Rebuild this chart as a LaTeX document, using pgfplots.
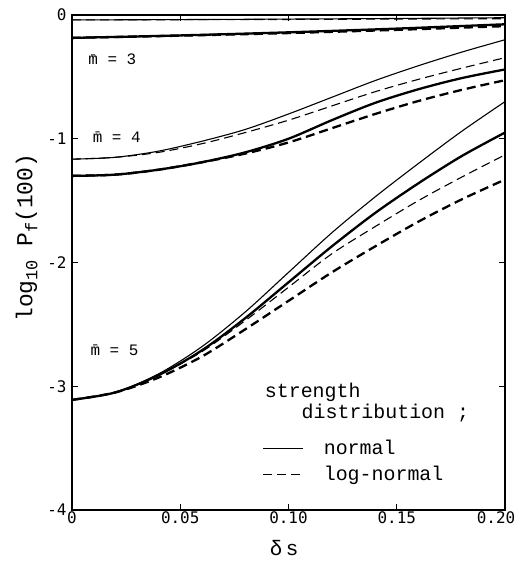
\documentclass[border=0pt]{standalone}
\usepackage{fontspec}
\setmainfont{Liberation Mono}
\newfontfamily\tickfont{DejaVu Sans Mono}
\usepackage{pgfplots}
\pgfplotsset{compat=1.18}
\newcommand\sub[1]{\raisebox{-5bp}{\fontsize{17}{19}\selectfont #1}}
\begin{document}
\begin{tikzpicture}
\useasboundingbox (-72bp,-54bp) rectangle (445bp,510bp);
\begin{axis}[at={(0,0)}, anchor=south west, scale only axis,
  width=433bp, height=495bp,
  xmin=0, xmax=0.2, ymin=-4, ymax=0,
  xtick={0,0.05,0.1,0.15,0.2},
  xticklabels={0,0.05,0.10,0.15,{\makebox[0pt]{\hspace*{-18bp}0.20}}},
  ytick={-4,-3,-2,-1,0}, yticklabels={-4,-3,-2,-1,0},
  tick align=inside, major tick length=6bp,
  every tick/.style={black, line width=1bp},
  axis line style={line width=1.5bp},
  ticklabel style={font=\tickfont\fontsize{16}{19}\selectfont},
  xticklabel style={yshift=2bp},
  yticklabel style={xshift=-2bp},
  xlabel={δ\,s}, ylabel={log\sub{10} P\sub{f}(100)},
  xlabel style={font=\fontsize{21}{24}\selectfont, at={(axis description cs:0.49,0)}, anchor=center, yshift=-38bp},
  ylabel style={font=\fontsize{23}{26}\selectfont, at={(axis description cs:-0.105,0.55)}, anchor=center},
  legend style={draw=none, fill=none, at={(axis description cs:0.44,0.145)}, anchor=north west,
    font=\fontsize{20}{23}\selectfont, row sep=6bp, inner sep=0pt,
    legend cell align=left},
  legend image code/.code={\draw[#1] (0bp,0bp) -- (40bp,0bp);},
  thin/.style={black, line width=1.1bp, smooth},
  thick/.style={black, line width=2.3bp, smooth},
  dsh/.style={dash pattern=on 9bp off 5bp},
]
% m = 3
\addplot[thin, forget plot] coordinates {(0,-0.04)(0.05,-0.037)(0.1,-0.033)(0.15,-0.028)(0.2,-0.022)};
\addplot[thin, dsh, forget plot] coordinates {(0,-0.04)(0.05,-0.038)(0.1,-0.036)(0.15,-0.033)(0.2,-0.03)};
\addplot[thick, forget plot] coordinates {(0,-0.185)(0.05,-0.165)(0.1,-0.14)(0.15,-0.11)(0.2,-0.075)};
\addplot[thick, dsh, forget plot] coordinates {(0,-0.185)(0.05,-0.167)(0.1,-0.146)(0.15,-0.12)(0.2,-0.09)};
% m = 4
\addplot[thin, forget plot] coordinates {(0,-1.165)(0.02,-1.15)(0.04,-1.10)(0.06,-1.02)(0.08,-0.925)(0.10,-0.80)(0.12,-0.665)(0.14,-0.53)(0.16,-0.41)(0.18,-0.30)(0.20,-0.20)};
\addplot[thin, dsh, forget plot] coordinates {(0,-1.165)(0.02,-1.15)(0.04,-1.11)(0.06,-1.04)(0.08,-0.95)(0.10,-0.85)(0.12,-0.735)(0.14,-0.62)(0.16,-0.52)(0.18,-0.43)(0.20,-0.345)};
\addplot[thick, forget plot] coordinates {(0,-1.30)(0.02,-1.29)(0.04,-1.25)(0.06,-1.19)(0.08,-1.11)(0.10,-1.00)(0.12,-0.85)(0.14,-0.71)(0.16,-0.60)(0.18,-0.51)(0.20,-0.44)};
\addplot[thick, dsh, forget plot] coordinates {(0,-1.30)(0.02,-1.29)(0.04,-1.25)(0.06,-1.19)(0.08,-1.12)(0.10,-1.03)(0.12,-0.915)(0.14,-0.80)(0.16,-0.695)(0.18,-0.605)(0.20,-0.527)};
% m = 5
\addplot[thin, forget plot] coordinates {(0,-3.11)(0.02,-3.05)(0.04,-2.90)(0.06,-2.68)(0.08,-2.40)(0.10,-2.08)(0.12,-1.76)(0.14,-1.47)(0.16,-1.20)(0.18,-0.94)(0.20,-0.70)};
\addplot[thick, forget plot] coordinates {(0,-3.11)(0.02,-3.05)(0.04,-2.91)(0.06,-2.71)(0.08,-2.45)(0.10,-2.16)(0.12,-1.87)(0.14,-1.60)(0.16,-1.36)(0.18,-1.14)(0.20,-0.95)};
\addplot[thin, dsh, forget plot] coordinates {(0,-3.11)(0.02,-3.05)(0.04,-2.91)(0.06,-2.72)(0.08,-2.47)(0.10,-2.20)(0.12,-1.93)(0.14,-1.71)(0.16,-1.50)(0.18,-1.31)(0.20,-1.13)};
\addplot[thick, dsh, forget plot] coordinates {(0,-3.11)(0.02,-3.05)(0.04,-2.93)(0.06,-2.76)(0.08,-2.54)(0.10,-2.31)(0.12,-2.08)(0.14,-1.87)(0.16,-1.67)(0.18,-1.49)(0.20,-1.33)};
% legend
\addlegendimage{black, line width=1.1bp}
\addlegendentry{\hspace*{18bp}normal}
\addlegendimage{black, line width=1.1bp, dash pattern=on 9bp off 5bp}
\addlegendentry{\hspace*{18bp}log-normal}
% labels
\node[anchor=west, font=\fontsize{16}{18}\selectfont, inner sep=0pt] at (axis cs:0.0075,-0.36) {\={m} = 3};
\node[anchor=west, font=\fontsize{16}{18}\selectfont, inner sep=0pt] at (axis cs:0.0095,-0.985) {\={m} = 4};
\node[anchor=west, font=\fontsize{16}{18}\selectfont, inner sep=0pt] at (axis cs:0.0085,-2.71) {\={m} = 5};
\node[anchor=west, font=\fontsize{20}{23}\selectfont, inner sep=0pt] at (axis cs:0.089,-3.05) {strength};
\node[anchor=west, font=\fontsize{20}{23}\selectfont, inner sep=0pt] at (axis cs:0.106,-3.22) {distribution ;};
\end{axis}
\end{tikzpicture}
\end{document}
